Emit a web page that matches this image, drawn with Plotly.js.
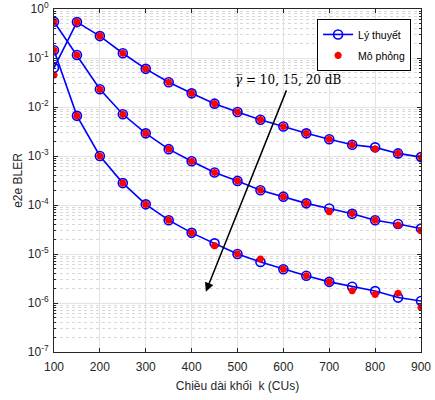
<!DOCTYPE html>
<html>
<head>
<meta charset="utf-8">
<script src="https://cdn.plot.ly/plotly-3.0.1.min.js"></script>
<style>html,body{margin:0;padding:0;background:#fff;}#chart{width:435px;height:400px;}</style>
</head>
<body>
<div id="chart"></div>
<script>
// Block length k (CUs)
const blockLength = [100,150,200,250,300,350,400,450,500,550,600,650,700,750,800,850,900];

// Theory (Lý thuyết)
const theory10 = [0.063,0.54,0.28,0.125,0.060,0.032,0.019,0.0117,0.0079,0.0055,0.0040,0.0029,0.0022,0.0017,0.0015,0.00113,0.00095];
const theory15 = [0.55,0.115,0.023,0.0071,0.0029,0.00138,0.00078,0.00046,0.00031,0.0002,0.000148,0.000108,8.5e-5,6.6e-5,4.9e-5,4.1e-5,3.3e-5];
const theory20 = [0.144,0.0066,0.001,2.8e-4,1.03e-4,4.9e-5,2.7e-5,1.65e-5,1.0e-5,6.9e-6,4.9e-6,3.6e-6,2.7e-6,2.14e-6,1.75e-6,1.29e-6,1.1e-6];

// Simulation (Mô phỏng)
const sim10 = [0.045,0.54,0.28,0.125,0.060,0.032,0.019,0.0117,0.0079,0.0055,0.0040,0.0029,0.0022,0.0017,0.0014,0.00113,0.00095];
const sim15 = [0.55,0.115,0.023,0.0071,0.0029,0.00138,0.00078,0.00046,0.00031,0.0002,0.000148,0.000108,7.3e-5,6.7e-5,4.9e-5,3.9e-5,3.0e-5];
const sim20 = [0.144,0.0066,0.001,2.8e-4,1.03e-4,4.9e-5,2.7e-5,1.48e-5,1.0e-5,7.9e-6,4.9e-6,3.6e-6,2.7e-6,1.78e-6,1.5e-6,1.58e-6,8.1e-7];

const xTicks = [100,200,300,400,500,600,700,800,900];
const yExponents = [-7,-6,-5,-4,-3,-2,-1,0];
const yTickVals = yExponents.map(e => Math.pow(10, e));
const yTickText = yExponents.map(e => '10<sup>' + e + '</sup>');
const yMinorVals = [];
yExponents.slice(0, -1).forEach(e => { for (let m = 2; m <= 9; m++) yMinorVals.push(m * Math.pow(10, e)); });

const blue = '#0000ff';
const red = '#ff0000';

function theoryTrace(y, show) {
  return {x: blockLength, y: y, type: 'scatter', mode: 'lines+markers',
    name: 'Lý thuyết', legendgroup: 'th', showlegend: show,
    line: {color: blue, width: 1.6},
    marker: {symbol: 'circle-open', size: 9, color: blue, line: {color: blue, width: 1.6}}};
}
function simTrace(y, show) {
  return {x: blockLength, y: y, type: 'scatter', mode: 'markers',
    name: 'Mô phỏng', legendgroup: 'sim', showlegend: show,
    marker: {symbol: 'asterisk-open', size: 6, color: red, line: {color: red, width: 2.2}}};
}

const data = [
  theoryTrace(theory10, true), theoryTrace(theory15, false), theoryTrace(theory20, false),
  simTrace(sim10, true), simTrace(sim15, false), simTrace(sim20, false)
];

const font = {family: 'Liberation Sans, Arial, sans-serif', size: 12, color: '#262626'};
const tickFont = {family: 'Liberation Sans, Arial, sans-serif', size: 12, color: '#262626'};

const layout = {
  width: 435, height: 400,
  margin: {l: 54, r: 14, t: 9, b: 48},
  paper_bgcolor: '#fff', plot_bgcolor: '#fff',
  font: font,
  showlegend: true,
  legend: {x: 0.973, y: 0.971, xanchor: 'right', yanchor: 'top',
    bgcolor: '#fff', bordercolor: '#000', borderwidth: 1,
    font: {family: 'Liberation Sans, Arial, sans-serif', size: 10.5, color: '#000'},
    tracegroupgap: 2},
  xaxis: {
    range: [100, 900], tickvals: xTicks, ticktext: xTicks.map(String),
    showline: true, linecolor: '#262626', linewidth: 1, mirror: 'ticks',
    ticks: 'inside', ticklen: 4, tickcolor: '#262626', ticklabelstandoff: 4,
    tickfont: tickFont,
    showgrid: true, gridcolor: '#e3e3e3', gridwidth: 1, zeroline: false,
    title: {text: 'Chiều dài khối  k (CUs)', font: font, standoff: 8}
  },
  yaxis: {
    type: 'log', range: [-7, 0], tickvals: yTickVals, ticktext: yTickText,
    showline: true, linecolor: '#262626', linewidth: 1, mirror: 'ticks',
    ticks: 'inside', ticklen: 4, tickcolor: '#262626', ticklabelstandoff: 2,
    tickfont: tickFont,
    showgrid: true, gridcolor: '#e3e3e3', gridwidth: 1, zeroline: false,
    minor: {tickvals: yMinorVals, ticks: 'inside', ticklen: 2, tickcolor: '#262626', showgrid: true, griddash: 'dot', gridcolor: '#d8d8d8', gridwidth: 1},
    title: {text: 'e2e BLER', font: font, standoff: 2}
  },
  annotations: [
    {x: 431, y: -5.77, ax: 608, ay: -1.63, xref: 'x', yref: 'y', axref: 'x', ayref: 'y',
     showarrow: true, arrowhead: 2, arrowsize: 1.2, arrowwidth: 1.5, arrowcolor: '#000', text: ''},
    {x: 611, y: -1.45, xref: 'x', yref: 'y', showarrow: false,
     text: '<i>γ̅</i> = 10, 15, 20 dB',
     font: {family: 'DejaVu Serif, Liberation Serif, serif', size: 12, color: '#000'}}
  ]
};

Plotly.newPlot('chart', data, layout, {displayModeBar: false, staticPlot: true});
</script>
</body>
</html>
